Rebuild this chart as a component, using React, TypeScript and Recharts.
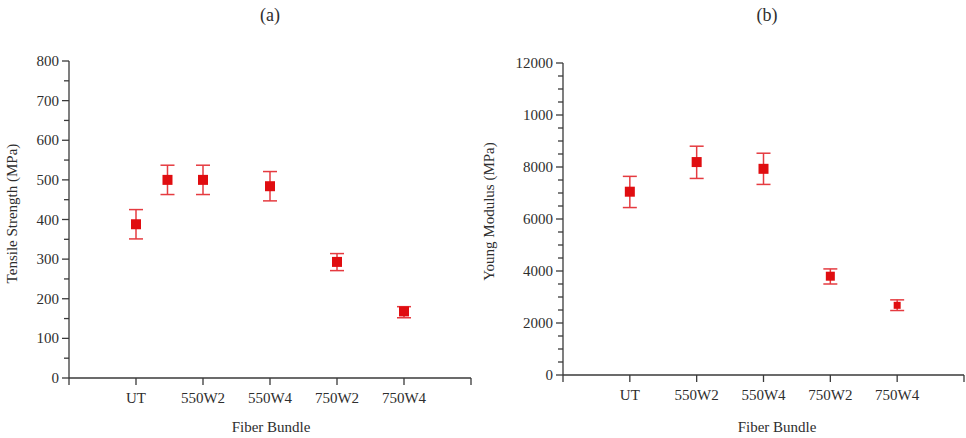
import React from 'react';
import { ScatterChart, Scatter, XAxis, YAxis, ErrorBar } from 'recharts';

// ---- data ----
const categories = ['UT', '550W2', '550W4', '750W2', '750W4'];

const tensileX = [1, 1.47, 2, 3, 4, 5];
const tensileMean = [388, 500, 500, 484, 293, 168];
const tensileErrLow = [37, 37, 37, 37, 22, 16];
const tensileErrHigh = [37, 37, 37, 37, 21, 12];

const modulusX = [1, 2, 3, 4, 5];
const modulusMean = [7050, 8190, 7930, 3800, 2680];
const modulusErrLow = [610, 630, 600, 300, 200];
const modulusErrHigh = [590, 610, 600, 280, 210];

const tensileTicks = Array.from({ length: 17 }, (_, i) => i * 50);
const modulusTicks = Array.from({ length: 25 }, (_, i) => i * 500);
const modulusTickLabels: Record<number, string> = {
  0: '0', 2000: '2000', 4000: '4000', 6000: '6000', 8000: '8000', 10000: '1000', 12000: '12000',
};
const xTicks = [0, 1, 2, 3, 4, 5, 6];

// ---- styles ----
const FONT = '"Liberation Serif", "Times New Roman", serif';
const AXIS = '#3a3a3a';
const TEXT = '#2e2e2e';
const MARK = '#e00d10';
const ERR = '#e53b40';
const tensileMarkerSize = [10, 10, 10, 10, 10, 10];
const modulusMarkerSize = [10, 10, 10, 9, 7];

const tensileData = tensileX.map((x, i) => ({
  x,
  y: tensileMean[i],
  err: [tensileErrLow[i], tensileErrHigh[i]],
  s: tensileMarkerSize[i],
}));
const modulusData = modulusX.map((x, i) => ({
  x,
  y: modulusMean[i],
  err: [modulusErrLow[i], modulusErrHigh[i]],
  s: modulusMarkerSize[i],
}));

const YTick = (props: any) => {
  const { x, y, payload, isMajor, fmt } = props;
  const v = payload.value;
  const major = isMajor(v);
  return (
    <g>
      <line x1={x - (major ? 7 : 5)} x2={x} y1={y} y2={y} stroke={AXIS} strokeWidth={1.3} />
      {major && (
        <text x={x - 10} y={y} dy="0.34em" textAnchor="end" fontSize={15} fontFamily={FONT} fill={TEXT}>
          {fmt(v)}
        </text>
      )}
    </g>
  );
};

const XTick = (props: any) => {
  const { x, y, payload } = props;
  const v = payload.value;
  const label = v >= 1 && v <= 5 ? categories[v - 1] : '';
  return (
    <g>
      <line x1={x} x2={x} y1={y} y2={y + 7} stroke={AXIS} strokeWidth={1.3} />
      {label && (
        <text x={x} y={y + 25} textAnchor="middle" fontSize={15} fontFamily={FONT} fill={TEXT}>
          {label}
        </text>
      )}
    </g>
  );
};

const Square = (props: any) => {
  const { cx, cy, payload } = props;
  const s = payload.s;
  return <rect x={cx - s / 2} y={cy - s / 2} width={s} height={s} fill={MARK} />;
};

const Empty = () => <g />;

const abs = (l: number, t: number): React.CSSProperties => ({ position: 'absolute', left: l, top: t });

const textStyle: React.CSSProperties = {
  fontFamily: FONT,
  color: TEXT,
  whiteSpace: 'nowrap',
  lineHeight: 1,
  position: 'absolute',
};

export default function App() {
  return (
    <div style={{ position: 'absolute', left: 0, top: 0, width: 966, height: 438, background: '#fff', overflow: 'hidden' }}>
      {/* chart (a) */}
      <div style={abs(0, 0)}>
        <ScatterChart width={480} height={438} margin={{ top: 61, right: 9, bottom: 10, left: 9 }}>
          <XAxis
            type="number"
            dataKey="x"
            domain={[0, 6]}
            ticks={xTicks}
            interval={0}
            tickSize={0}
            tickMargin={0}
            tickLine={false}
            height={50}
            stroke={AXIS}
            strokeWidth={1.3}
            tick={(p: any) => <XTick {...p} />}
          />
          <YAxis
            type="number"
            dataKey="y"
            domain={[0, 800]}
            ticks={tensileTicks}
            interval={0}
            tickSize={0}
            tickMargin={0}
            tickLine={false}
            width={60}
            stroke={AXIS}
            strokeWidth={1.3}
            tick={(p: any) => <YTick {...p} isMajor={(v: number) => v % 100 === 0} fmt={(v: number) => String(v)} />}
          />
          <Scatter data={tensileData} isAnimationActive={false} shape={(p: any) => <Empty />}>
            <ErrorBar dataKey="err" direction="y" width={7} stroke={ERR} strokeWidth={1.5} />
          </Scatter>
          <Scatter data={tensileData} isAnimationActive={false} shape={(p: any) => <Square {...p} />} />
        </ScatterChart>
      </div>

      {/* chart (b) */}
      <div style={abs(480, 0)}>
        <ScatterChart width={486} height={438} margin={{ top: 63, right: 2, bottom: 13, left: 13 }}>
          <XAxis
            type="number"
            dataKey="x"
            domain={[0, 6]}
            ticks={xTicks}
            interval={0}
            tickSize={0}
            tickMargin={0}
            tickLine={false}
            height={50}
            stroke={AXIS}
            strokeWidth={1.3}
            tick={(p: any) => <XTick {...p} />}
          />
          <YAxis
            type="number"
            dataKey="y"
            domain={[0, 12000]}
            ticks={modulusTicks}
            interval={0}
            tickSize={0}
            tickMargin={0}
            tickLine={false}
            width={70}
            stroke={AXIS}
            strokeWidth={1.3}
            tick={(p: any) => <YTick {...p} isMajor={(v: number) => v % 2000 === 0} fmt={(v: number) => modulusTickLabels[v]} />}
          />
          <Scatter data={modulusData} isAnimationActive={false} shape={(p: any) => <Empty />}>
            <ErrorBar dataKey="err" direction="y" width={7} stroke={ERR} strokeWidth={1.5} />
          </Scatter>
          <Scatter data={modulusData} isAnimationActive={false} shape={(p: any) => <Square {...p} />} />
        </ScatterChart>
      </div>

      {/* titles */}
      <div style={{ ...textStyle, left: 230, top: 6, width: 80, textAlign: 'center', fontSize: 18 }}>(a)</div>
      <div style={{ ...textStyle, left: 727, top: 6, width: 80, textAlign: 'center', fontSize: 18 }}>(b)</div>

      {/* x axis titles */}
      <div style={{ ...textStyle, left: 211, top: 420, width: 120, textAlign: 'center', fontSize: 15 }}>Fiber Bundle</div>
      <div style={{ ...textStyle, left: 717, top: 420, width: 120, textAlign: 'center', fontSize: 15 }}>Fiber Bundle</div>

      {/* y axis titles */}
      <div
        style={{
          ...textStyle,
          left: 12 - 100,
          top: 214 - 8,
          width: 200,
          textAlign: 'center',
          fontSize: 15,
          transform: 'rotate(-90deg)',
          transformOrigin: '50% 50%',
        }}
      >
        Tensile Strength (MPa)
      </div>
      <div
        style={{
          ...textStyle,
          left: 489 - 100,
          top: 212 - 8,
          width: 200,
          textAlign: 'center',
          fontSize: 15,
          transform: 'rotate(-90deg)',
          transformOrigin: '50% 50%',
        }}
      >
        Young Modulus (MPa)
      </div>
    </div>
  );
}
